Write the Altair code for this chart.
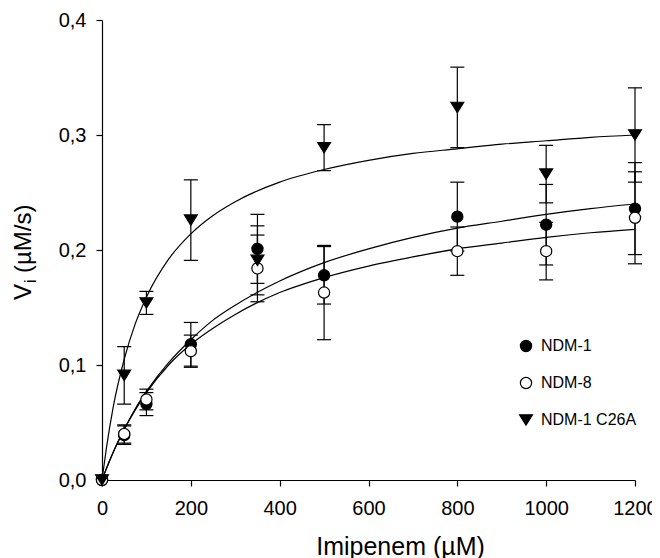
import altair as alt
import pandas as pd

# ---- measured points (mean +/- error) ----
conc = [0, 50, 100, 200, 350, 500, 800, 1000, 1200]
ndm1 = [0, 0.039, 0.066, 0.118, 0.201, 0.178, 0.229, 0.222, 0.236]
ndm1_err = [0, 0.008, 0.010, 0.019, 0.030, 0.025, 0.030, 0.035, 0.040]
ndm8 = [0, 0.040, 0.070, 0.112, 0.184, 0.163, 0.199, 0.199, 0.228]
ndm8_err = [0, 0.008, 0.009, 0.014, 0.029, 0.041, 0.021, 0.025, 0.040]
c26a = [0, 0.091, 0.154, 0.226, 0.191, 0.289, 0.324, 0.266, 0.300]
c26a_err = [0, 0.025, 0.010, 0.035, 0.030, 0.020, 0.035, 0.025, 0.041]

# ---- fitted curves ----
curve_x = [0, 10, 25, 50, 75, 100, 150, 200, 250, 300, 400, 500, 600, 700, 800, 900, 1000, 1100, 1200]
ndm1_curve = [0, 0.010, 0.024, 0.044, 0.062, 0.077, 0.102, 0.122, 0.139, 0.152, 0.173, 0.189, 0.201, 0.211, 0.219, 0.225, 0.231, 0.236, 0.240]
ndm8_curve = [0, 0.010, 0.024, 0.044, 0.061, 0.076, 0.100, 0.118, 0.132, 0.144, 0.163, 0.176, 0.186, 0.194, 0.201, 0.206, 0.211, 0.215, 0.218]
c26a_curve = [0, 0.028, 0.063, 0.105, 0.136, 0.159, 0.192, 0.214, 0.230, 0.242, 0.259, 0.270, 0.278, 0.284, 0.288, 0.292, 0.295, 0.298, 0.300]

series = ["NDM-1", "NDM-8", "NDM-1 C26A"]
x_ticks = [0, 200, 400, 600, 800, 1000, 1200]
y_ticks = [0, 0.1, 0.2, 0.3, 0.4]

FONT = "Liberation Sans"
TRI = "M-1.15,-0.92L1.15,-0.92L0,0.92Z"

pts = pd.DataFrame({
    "conc": conc * 3,
    "v": ndm1 + ndm8 + c26a,
    "err": ndm1_err + ndm8_err + c26a_err,
    "series": [series[0]] * len(conc) + [series[1]] * len(conc) + [series[2]] * len(conc),
    "order": [0] * len(conc) + [1] * len(conc) + [2] * len(conc),
})
curves = pd.DataFrame({
    "conc": curve_x * 3,
    "v": ndm1_curve + ndm8_curve + c26a_curve,
    "series": [series[0]] * len(curve_x) + [series[1]] * len(curve_x) + [series[2]] * len(curve_x),
})

xs = alt.Scale(domain=[0, 1200], nice=False)
ys = alt.Scale(domain=[0, 0.4], nice=False)

x_axis = alt.Axis(values=x_ticks, format="d", title="Imipenem (µM)", titleFontSize=25, titleFont=FONT,
                  titleFontWeight="normal", titleColor="black", labelFontSize=20, labelFont=FONT,
                  labelColor="black", tickSize=6, tickColor="black", domainColor="black",
                  tickWidth=1.2, domainWidth=1.2, grid=False, labelPadding=12, titlePadding=16,
                  titleX=298, labelFlush=False)
y_axis = alt.Axis(values=y_ticks, title=None, labelFontSize=20, labelFont=FONT, labelColor="black",
                  labelExpr="replace(format(datum.value, '.1f'), '.', ',')",
                  tickSize=6, tickColor="black", domainColor="black", tickWidth=1.2,
                  domainWidth=1.2, grid=False, labelPadding=10)

lines = alt.Chart(curves).mark_line(color="black", strokeWidth=1.2, interpolate="monotone").encode(
    x=alt.X("conc:Q", scale=xs, axis=x_axis),
    y=alt.Y("v:Q", scale=ys, axis=y_axis),
    detail="series:N",
)

eb = alt.Chart(pts).transform_filter("datum.err > 0").transform_calculate(
    lo="datum.v - datum.err", hi="datum.v + datum.err"
)
rules = eb.mark_rule(color="black", strokeWidth=1.2).encode(
    x=alt.X("conc:Q", scale=xs), y=alt.Y("lo:Q", scale=ys), y2="hi:Q"
)
cap_lo = eb.mark_tick(color="black", orient="horizontal", size=14, thickness=1.2, opacity=1).encode(
    x=alt.X("conc:Q", scale=xs), y=alt.Y("lo:Q", scale=ys)
)
cap_hi = eb.mark_tick(color="black", orient="horizontal", size=14, thickness=1.2, opacity=1).encode(
    x=alt.X("conc:Q", scale=xs), y=alt.Y("hi:Q", scale=ys)
)

leg = alt.Legend(title=None, orient="none", legendX=416, legendY=318,
                 symbolStrokeColor="black", symbolStrokeWidth=1.2)
points = alt.Chart(pts).mark_point(filled=True, strokeWidth=1.2, opacity=1, size=125).encode(
    x=alt.X("conc:Q", scale=xs),
    y=alt.Y("v:Q", scale=ys),
    shape=alt.Shape("series:N", scale=alt.Scale(domain=series, range=["circle", "circle", TRI]), legend=leg),
    fill=alt.Fill("series:N", scale=alt.Scale(domain=series, range=["black", "white", "black"]), legend=leg),
    stroke=alt.Stroke("series:N", scale=alt.Scale(domain=series, range=["black", "black", "black"]), legend=leg),
    order="order:Q",
)

def ytxt(t, x, y, fs):
    return alt.Chart(pd.DataFrame({"t": [t]})).mark_text(
        angle=270, align="left", baseline="alphabetic", fontSize=fs, font=FONT, color="black"
    ).encode(x=alt.value(x), y=alt.value(y), text="t:N")

ytitle = ytxt("V", -71, 280, 24) + ytxt("i", -66, 263, 16) + ytxt("(µM/s)", -71, 253, 24)

chart = alt.layer(lines, rules, cap_lo, cap_hi, points, ytitle).properties(
    width=533, height=460,
    autosize=alt.AutoSizeParams(type="none"),
    padding={"left": 94, "top": 12, "right": 17, "bottom": 90},
).configure_view(stroke=None).configure_legend(
    labelFontSize=16, labelFont=FONT, labelColor="black", symbolSize=125,
    symbolStrokeColor="black", symbolStrokeWidth=1.2, rowPadding=21, labelOffset=7, padding=0,
)

chart.save("out.html", embed_options={"renderer": "svg", "actions": False})
